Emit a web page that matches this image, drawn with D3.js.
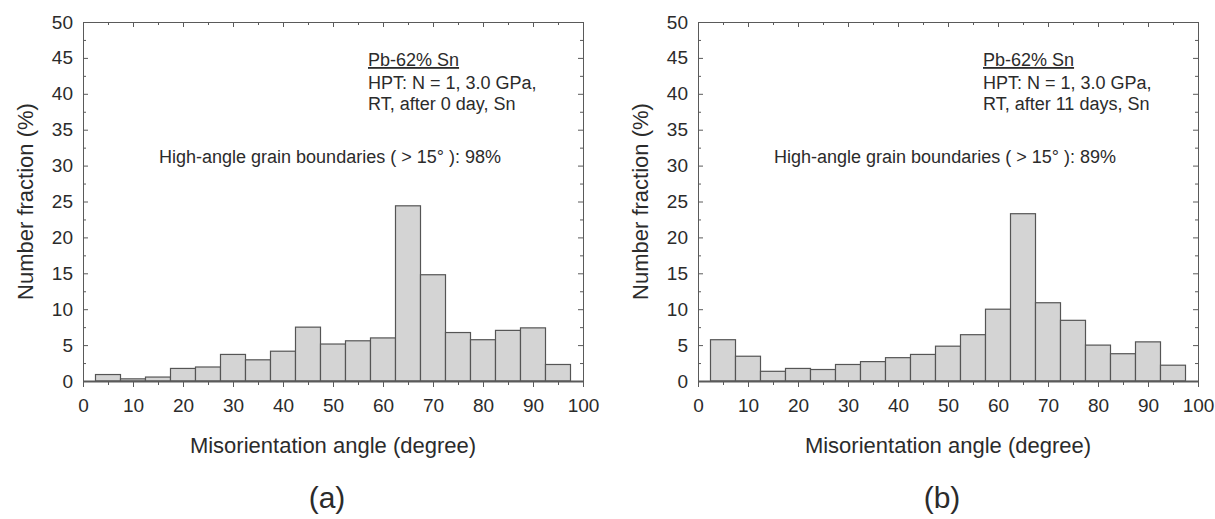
<!DOCTYPE html>
<html lang="en">
<head>
    <meta charset="utf-8">
    <title>Misorientation angle distribution</title>
    <script src="https://d3js.org/d3.v7.min.js"></script>
    <style>
        body {
            margin: 0;
            background: white;
            font-family: "Liberation Sans", Arial, Helvetica, sans-serif;
        }
        text {
            fill: #2b2b2b;
        }
        .tick text {
            font-size: 19px;
            font-family: "Liberation Sans", Arial, sans-serif;
            fill: #2b2b2b;
        }
        .frame .domain, .frame line {
            stroke: #5a5a5a;
        }
    </style>
</head>
<body>
<script>

    var w = 1215;
    var h = 519;

    // bin centres (degree), 5 degree wide bins
    var binCenters = [5, 10, 15, 20, 25, 30, 35, 40, 45, 50, 55, 60, 65, 70, 75, 80, 85, 90, 95];
    var binWidth = 5;

    // number fraction (%)
    var fracA = [0.9, 0.3, 0.55, 1.75, 1.95, 3.7, 2.95, 4.15, 7.5, 5.15, 5.6, 6.0, 24.4, 14.8, 6.75, 5.75, 7.05, 7.4, 2.3];
    var fracB = [5.75, 3.45, 1.35, 1.75, 1.6, 2.3, 2.7, 3.25, 3.7, 4.85, 6.45, 10.0, 23.3, 10.9, 8.45, 5.0, 3.8, 5.45, 2.2];

    var xTicks = [0, 10, 20, 30, 40, 50, 60, 70, 80, 90, 100];
    var xMinor = [5, 15, 25, 35, 45, 55, 65, 75, 85, 95];
    var yTicks = [0, 5, 10, 15, 20, 25, 30, 35, 40, 45, 50];
    var yMinor = [2.5, 7.5, 12.5, 17.5, 22.5, 27.5, 32.5, 37.5, 42.5, 47.5];

    var noteTitle = "Pb-62% Sn";
    var noteLine1 = "HPT: N = 1, 3.0 GPa,";
    var noteLinesA = "RT, after 0 day, Sn";
    var noteLinesB = "RT, after 11 days, Sn";
    var hagbA = "High-angle grain boundaries ( > 15\u00b0 ): 98%";
    var hagbB = "High-angle grain boundaries ( > 15\u00b0 ): 89%";

    var panels = [
        {left: 83, data: fracA, note: noteLinesA, hagb: hagbA, label: "(a)"},
        {left: 698, data: fracB, note: noteLinesB, hagb: hagbB, label: "(b)"}
    ];

    var pw = 500;
    var plotTop = 22;
    var plotBottom = 381;

    var svg = d3.select("body")
        .append("svg")
        .attr("width", w)
        .attr("height", h);

    panels.forEach(function(p) {
        var g = svg.append("g");

        var xScale = d3.scaleLinear()
            .domain([0, 100])
            .range([p.left, p.left + pw]);

        var yScale = d3.scaleLinear()
            .domain([0, 50])
            .range([plotBottom, plotTop]);

        //bars
        g.selectAll("rect.bar")
            .data(p.data)
            .enter()
            .append("rect")
            .attr("class", "bar")
            .attr("x", function(d, i) { return xScale(binCenters[i] - binWidth / 2); })
            .attr("y", function(d) { return yScale(d); })
            .attr("width", function(d, i) {
                return xScale(binCenters[i] + binWidth / 2) - xScale(binCenters[i] - binWidth / 2);
            })
            .attr("height", function(d) { return plotBottom - yScale(d); })
            .attr("fill", "#d4d4d4")
            .attr("stroke", "#555")
            .attr("stroke-width", 1.2);

        //minor ticks first (no labels)
        g.append("g").attr("class", "frame")
            .attr("transform", "translate(" + p.left + ",0)")
            .call(d3.axisLeft(yScale).tickValues(yMinor).tickSize(-3).tickFormat(""))
            .select(".domain").remove();
        g.append("g").attr("class", "frame")
            .attr("transform", "translate(" + (p.left + pw) + ",0)")
            .call(d3.axisRight(yScale).tickValues(yMinor).tickSize(-3).tickFormat(""))
            .select(".domain").remove();
        g.append("g").attr("class", "frame")
            .attr("transform", "translate(0," + plotTop + ")")
            .call(d3.axisTop(xScale).tickValues(xMinor).tickSize(-3).tickFormat(""))
            .select(".domain").remove();
        g.append("g").attr("class", "frame")
            .attr("transform", "translate(0," + plotBottom + ")")
            .call(d3.axisBottom(xScale).tickValues(xMinor).tickSize(4).tickFormat(""))
            .select(".domain").remove();

        //major ticks + frame
        g.append("g").attr("class", "frame")
            .attr("transform", "translate(" + p.left + ",0)")
            .call(d3.axisLeft(yScale).tickValues(yTicks).tickSize(-5).tickSizeOuter(0).tickPadding(10));
        g.append("g").attr("class", "frame")
            .attr("transform", "translate(" + (p.left + pw) + ",0)")
            .call(d3.axisRight(yScale).tickValues(yTicks).tickSize(-5).tickSizeOuter(0).tickFormat(""));
        g.append("g").attr("class", "frame")
            .attr("transform", "translate(0," + plotTop + ")")
            .call(d3.axisTop(xScale).tickValues(xTicks).tickSize(-5).tickSizeOuter(0).tickFormat(""));
        var xAxis = g.append("g").attr("class", "frame")
            .attr("transform", "translate(0," + plotBottom + ")")
            .call(d3.axisBottom(xScale).tickValues(xTicks).tickSize(6).tickSizeOuter(0).tickPadding(12));
        xAxis.select(".domain").attr("stroke", "#222").attr("stroke-width", 1.8);

        g.selectAll(".frame .domain").attr("fill", "none");

        //axis titles
        g.append("text")
            .attr("x", (xScale(0) + xScale(100)) / 2)
            .attr("y", 453)
            .attr("text-anchor", "middle")
            .style("font-size", "22px")
            .text("Misorientation angle (degree)");

        g.append("text")
            .attr("transform", "translate(" + (p.left - 50) + "," + ((plotTop + plotBottom) / 2) + ") rotate(-90)")
            .attr("text-anchor", "middle")
            .style("font-size", "22px")
            .text("Number fraction (%)");

        //panel label
        g.append("text")
            .attr("x", (xScale(0) + xScale(100)) / 2 - 6)
            .attr("y", 508)
            .attr("text-anchor", "middle")
            .style("font-size", "30px")
            .text(p.label);

        //annotation
        var nx = xScale(57);
        g.append("text")
            .attr("x", nx).attr("y", 66)
            .style("font-size", "18px")
            .style("text-decoration", "underline")
            .text(noteTitle);
        g.append("text")
            .attr("x", nx).attr("y", 88.5)
            .style("font-size", "18px")
            .text(noteLine1);
        g.append("text")
            .attr("x", nx).attr("y", 110)
            .style("font-size", "18px")
            .text(p.note);

        g.append("text")
            .attr("x", xScale(15.2)).attr("y", 163)
            .style("font-size", "18px")
            .text(p.hagb);
    });
</script>
</body>
</html>
